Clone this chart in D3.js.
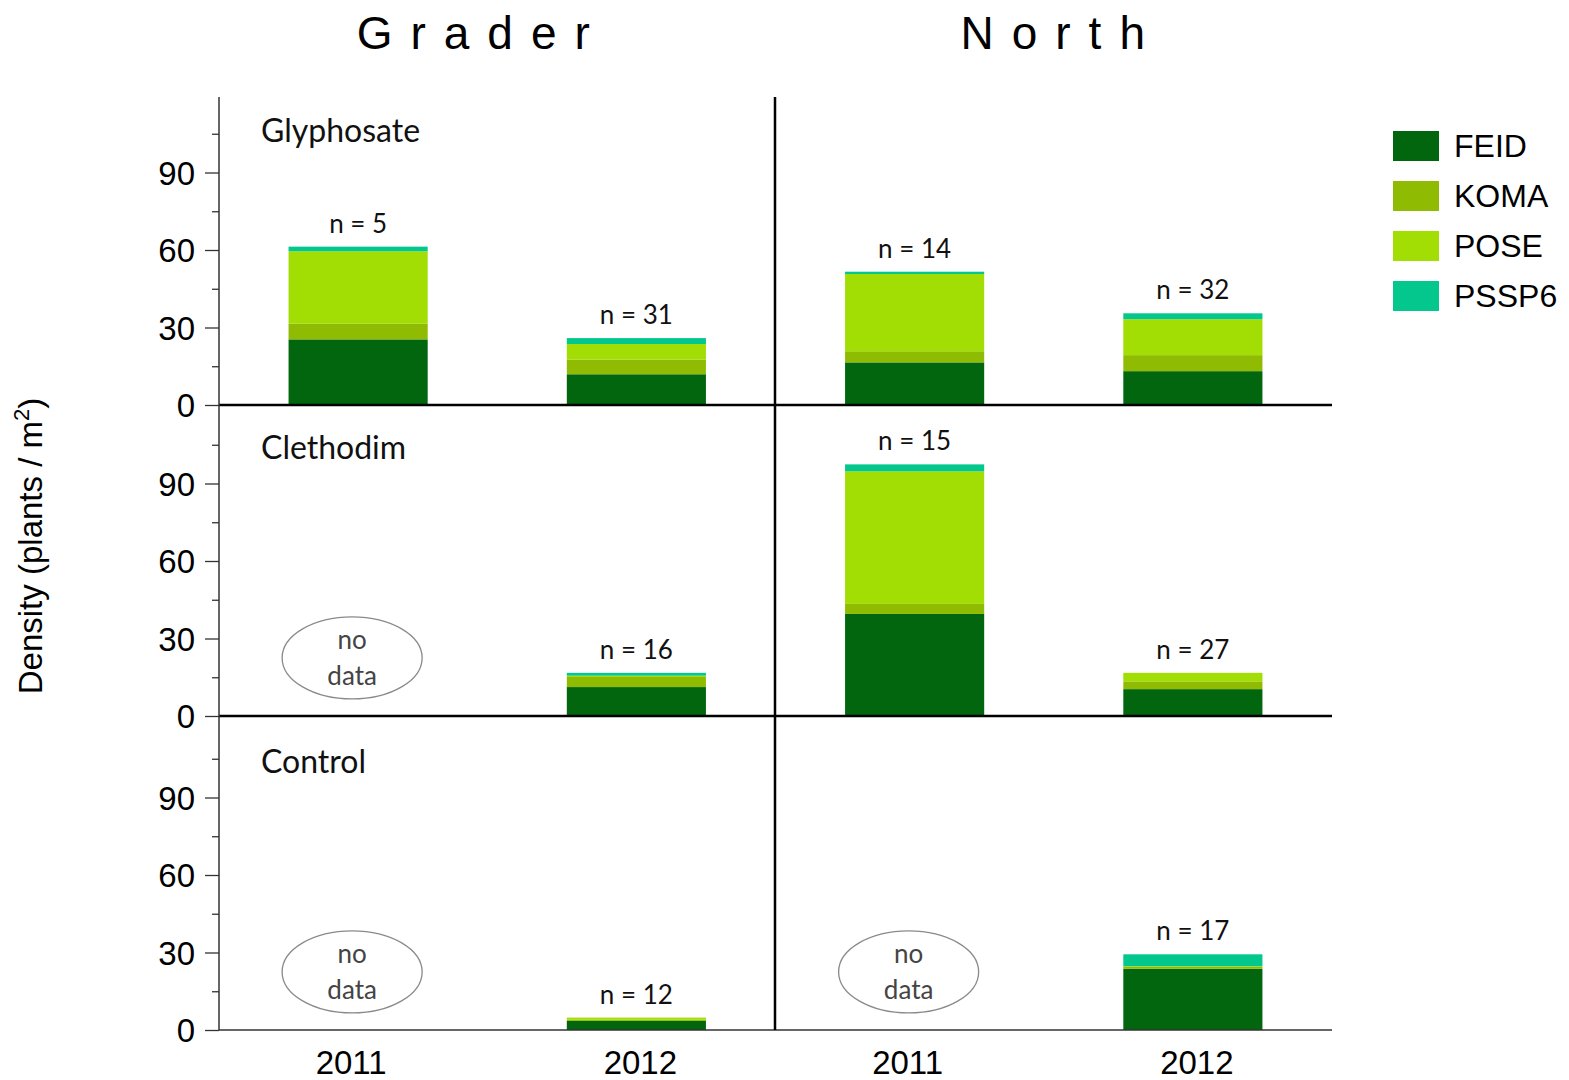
<!DOCTYPE html>
<html><head><meta charset="utf-8">
<script src="https://cdn.jsdelivr.net/npm/d3@7"></script>
<style>body{margin:0;background:#fff}svg{display:block}</style>
</head><body>
<svg id="c" width="1569" height="1080"></svg>
<script>
// ---- data ----
const sites = ["Grader", "North"];
const treatments = ["Glyphosate", "Clethodim", "Control"];
const years = ["2011", "2012"];
const species = ["FEID", "KOMA", "POSE", "PSSP6"];
const yTicks = [0, 30, 60, 90];
const yMinorTicks = [15, 45, 75, 105];

// cells: one per treatment x site x year (null = no data)
const cellTreatment = ["Glyphosate","Glyphosate","Glyphosate","Glyphosate","Clethodim","Clethodim","Clethodim","Clethodim","Control","Control","Control","Control"];
const cellSite      = ["Grader","Grader","North","North","Grader","Grader","North","North","Grader","Grader","North","North"];
const cellYear      = ["2011","2012","2011","2012","2011","2012","2011","2012","2011","2012","2011","2012"];
const FEID  = [25.4, 11.9, 16.5, 13.1, null, 11.2, 39.5, 10.4, null, 3.5, null, 23.7];
const KOMA  = [6.1,  5.7,  4.3,  6.2,  null, 3.9,  3.9,  3.0,  null, 0.5, null, 0.7];
const POSE  = [28.0, 6.0,  29.9, 13.9, null, 0.5,  51.3, 3.3,  null, 0.8, null, 0.3];
const PSSP6 = [1.8,  2.3,  0.9,  2.3,  null, 1.1,  2.7,  0.0,  null, 0.0, null, 4.6];
const nCount = [5, 31, 14, 32, null, 16, 15, 27, null, 12, null, 17];

const colors = ["#02660f", "#8fbc03", "#a2dd03", "#04c78d"];

// ---- layout ----
const svg = d3.select("#c");
const left = 219, mid = 775, right = 1332;
const rowBottom = [405, 716, 1030];
const rowH = 310;
const axisTop = 97;
const titleShift = {Grader: -15, North: 8};
const yearLabelShift = {"2011": -7, "2012": 4};

const xSite = d3.scaleBand().domain(sites).range([left, right]).padding(0);
const xYear = d3.scaleBand().domain(years).range([0, xSite.bandwidth()]).paddingInner(0.5).paddingOuter(0.25);
const color = d3.scaleOrdinal().domain(species).range(colors);

const seriesVals = {FEID, KOMA, POSE, PSSP6};
const cells = cellTreatment.map((t, i) => {
  const d = {treatment: t, site: cellSite[i], year: cellYear[i], n: nCount[i]};
  species.forEach(s => d[s] = seriesVals[s][i]);
  return d;
});

const stack = d3.stack().keys(species);
const yScales = treatments.map((t, r) =>
  d3.scaleLinear().domain([0, 120]).range([rowBottom[r], rowBottom[r] - rowH]));

// site titles
sites.forEach(s => {
  svg.append("text")
    .attr("x", xSite(s) + xSite.bandwidth() / 2 + titleShift[s])
    .attr("y", 49)
    .attr("text-anchor", "middle")
    .attr("font-family", "Liberation Sans, Arial, sans-serif")
    .attr("font-size", 46)
    .attr("letter-spacing", "18px")
    .attr("fill", "#000")
    .text(s);
});

// y axis title
svg.append("text")
  .attr("transform", "translate(42,546) rotate(-90)")
  .attr("text-anchor", "middle")
  .attr("font-family", "Liberation Sans, Arial, sans-serif")
  .attr("font-size", 33)
  .attr("fill", "#000")
  .html('Density (plants / m<tspan dy="-13" font-size="22">2</tspan><tspan dy="13">)</tspan>');

treatments.forEach((t, r) => {
  const y = yScales[r];
  const g = svg.append("g");

  // bars
  const rowCells = cells.filter(d => d.treatment === t && d.FEID !== null);
  const stacked = stack(rowCells);
  stacked.forEach(layer => {
    g.selectAll(null).data(layer).enter().append("rect")
      .attr("x", d => xSite(d.data.site) + xYear(d.data.year))
      .attr("width", xYear.bandwidth())
      .attr("y", d => y(d[1]))
      .attr("height", d => Math.max(0, y(d[0]) - y(d[1])))
      .attr("fill", color(layer.key));
  });

  // n labels
  rowCells.forEach(d => {
    const total = species.reduce((a, s) => a + d[s], 0);
    g.append("text")
      .attr("x", xSite(d.site) + xYear(d.year) + xYear.bandwidth() / 2)
      .attr("y", y(total) - 14)
      .attr("text-anchor", "middle")
      .attr("font-family", "Lato, sans-serif")
      .attr("font-size", 26)
      .attr("fill", "#111")
      .text("n = " + d.n);
  });

  // no data ellipses
  cells.filter(d => d.treatment === t && d.FEID === null).forEach(d => {
    const cx = xSite(d.site) + xYear(d.year) + xYear.bandwidth() / 2 - 6;
    const cy = y(22.5);
    g.append("ellipse").attr("cx", cx).attr("cy", cy).attr("rx", 70).attr("ry", 41)
      .attr("fill", "none").attr("stroke", "#8a8a8a").attr("stroke-width", 1.3);
    g.append("text").attr("x", cx).attr("y", cy - 9).attr("text-anchor", "middle")
      .attr("font-family", "Lato, sans-serif").attr("font-size", 26).attr("fill", "#444").text("no");
    g.append("text").attr("x", cx).attr("y", cy + 27).attr("text-anchor", "middle")
      .attr("font-family", "Lato, sans-serif").attr("font-size", 26).attr("fill", "#444").text("data");
  });

  // y axis ticks
  const ax = d3.axisLeft(y).tickValues(yTicks).tickSize(14).tickPadding(10).tickFormat(d3.format("d"));
  const axG = svg.append("g").attr("transform", `translate(${left},0)`).call(ax);
  axG.select(".domain").remove();
  axG.selectAll("line").attr("stroke", "#333").attr("stroke-width", 1.3);
  axG.selectAll("text").attr("font-family", "Liberation Sans, Arial, sans-serif")
    .attr("font-size", 33).attr("fill", "#000").attr("dy", "0.36em");
  const axMinor = d3.axisLeft(y).tickValues(yMinorTicks).tickSize(7).tickFormat("");
  const mG = svg.append("g").attr("transform", `translate(${left},0)`).call(axMinor);
  mG.select(".domain").remove();
  mG.selectAll("line").attr("stroke", "#333").attr("stroke-width", 1.3);

  // panel label
  svg.append("text").attr("x", 261).attr("y", y(120) + (r === 0 ? 47 : 53))
    .attr("font-family", "Lato, sans-serif").attr("font-size", 32).attr("fill", "#111").text(t);

  // baseline
  svg.append("line").attr("x1", left).attr("x2", right)
    .attr("y1", y(0)).attr("y2", y(0))
    .attr("stroke", r < 2 ? "#000" : "#333").attr("stroke-width", r < 2 ? 2.6 : 1.5);
});

// vertical axis lines
svg.append("line").attr("x1", left).attr("x2", left).attr("y1", axisTop).attr("y2", rowBottom[2])
  .attr("stroke", "#333").attr("stroke-width", 1.5);
svg.append("line").attr("x1", mid).attr("x2", mid).attr("y1", axisTop).attr("y2", rowBottom[2])
  .attr("stroke", "#000").attr("stroke-width", 2.5);

// x labels
sites.forEach(s => years.forEach(yr => {
  svg.append("text")
    .attr("x", xSite(s) + xYear(yr) + xYear.bandwidth() / 2 + yearLabelShift[yr])
    .attr("y", 1074)
    .attr("text-anchor", "middle")
    .attr("font-family", "Liberation Sans, Arial, sans-serif")
    .attr("font-size", 33).attr("fill", "#000").text(yr);
}));

// legend
const lg = svg.append("g").attr("transform", "translate(1393,131)");
species.forEach((s, i) => {
  lg.append("rect").attr("x", 0).attr("y", i * 50).attr("width", 46).attr("height", 30).attr("fill", color(s));
  lg.append("text").attr("x", 61).attr("y", i * 50 + 26)
    .attr("font-family", "Liberation Sans, Arial, sans-serif").attr("font-size", 32).attr("fill", "#000").text(s);
});
</script>
</body></html>
